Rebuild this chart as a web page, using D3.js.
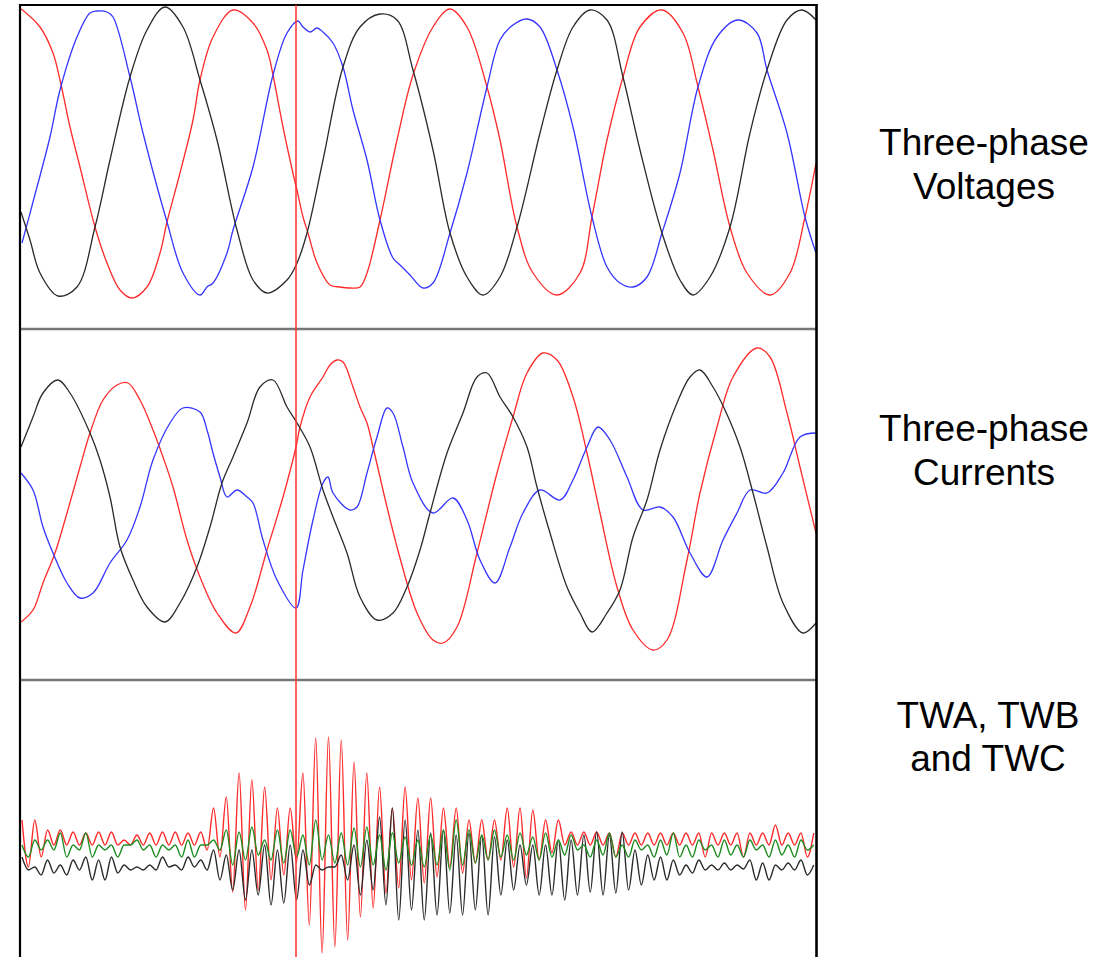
<!DOCTYPE html>
<html>
<head>
<meta charset="utf-8">
<script src="https://cdnjs.cloudflare.com/ajax/libs/d3/7.8.5/d3.min.js"></script>
<style>
body { margin: 0; background: #ffffff; }
</style>
</head>
<body>
<div id="chart"></div>
<script>
//recording window in samples, fault cursor sample
var sampleCount = 796;
var faultSample = 276;

//three-phase voltages [sample, value]
var voltageA = [[0,144],[20,125],[33,99],[40,72],[50,25],[60,-15],[75,-75],[87,-111],[100,-138],[112,-146],[127,-135],[140,-101],[147,-70],[160,-21],[173,32],[180,72],[193,115],[213,142],[233,129],[247,102],[253,77],[263,25],[275,-30],[277,-38],[283,-65],[288,-81],[297,-111],[310,-133],[320,-135],[330,-136],[340,-135],[347,-121],[360,-68],[377,12],[393,77],[413,125],[430,143],[447,125],[467,65],[480,12],[497,-75],[513,-121],[537,-143],[560,-121],[572,-65],[587,12],[603,75],[620,125],[642,142],[663,119],[678,65],[693,2],[710,-75],[727,-121],[750,-143],[770,-121],[785,-65],[796,-11]];
var voltageB = [[2,-91],[13,-50],[30,15],[40,62],[57,115],[70,139],[77,141],[87,140],[93,135],[110,75],[123,19],[147,-70],[163,-121],[180,-143],[187,-135],[193,-131],[207,-101],[213,-78],[233,-15],[253,77],[267,119],[278,131],[283,125],[290,120],[297,124],[303,120],[313,109],[323,85],[333,42],[347,-8],[360,-68],[373,-106],[380,-113],[390,-123],[403,-136],[413,-131],[430,-81],[447,-21],[467,65],[480,112],[493,127],[507,133],[520,125],[537,82],[553,25],[572,-65],[587,-115],[600,-131],[613,-135],[627,-125],[642,-81],[660,-21],[678,65],[697,115],[718,132],[737,119],[747,82],[767,19],[785,-65],[796,-101]];
var voltageC = [[1,-60],[10,-88],[20,-121],[38,-144],[57,-135],[75,-75],[90,-8],[110,75],[127,122],[145,145],[163,125],[180,72],[197,12],[217,-78],[233,-128],[247,-141],[267,-128],[277,-111],[287,-81],[303,-8],[323,85],[340,125],[360,138],[377,132],[393,82],[413,2],[430,-81],[447,-125],[463,-143],[480,-125],[497,-75],[520,19],[537,82],[553,125],[570,142],[587,132],[603,75],[620,2],[642,-81],[660,-128],[673,-143],[690,-125],[710,-75],[730,19],[747,82],[767,132],[782,142],[796,132]];

//three-phase currents [sample, value]
var currentA = [[1,-122],[13,-110],[23,-83],[35,-53],[47,-13],[60,33],[70,67],[83,100],[97,115],[108,117],[120,100],[133,70],[143,43],[153,13],[167,-40],[180,-77],[197,-113],[216,-133],[230,-107],[247,-50],[263,3],[276,53],[280,73],[290,103],[303,123],[310,135],[317,140],[323,138],[333,113],[340,93],[347,77],[353,53],[367,-7],[380,-58],[397,-113],[413,-140],[423,-143],[437,-127],[457,-53],[477,27],[493,83],[507,127],[523,147],[537,140],[553,103],[567,47],[580,-13],[597,-87],[613,-130],[633,-150],[647,-140],[667,-60],[680,7],[697,73],[713,123],[737,152],[750,143],[767,87],[780,33],[796,-33]];
var currentB = [[1,27],[13,10],[23,-27],[33,-53],[47,-83],[60,-98],[73,-93],[90,-63],[107,-40],[120,-7],[133,40],[150,77],[163,92],[180,88],[187,70],[193,47],[200,23],[207,3],[217,10],[227,3],[233,-3],[243,-40],[257,-80],[276,-108],[283,-70],[293,-20],[303,17],[308,23],[313,7],[330,-10],[337,-7],[347,27],[357,63],[367,92],[373,87],[383,53],[393,17],[413,-13],[433,2],[447,-20],[460,-60],[475,-83],[490,-47],[503,-13],[520,10],[540,0],[553,20],[567,53],[578,73],[590,60],[607,23],[623,-10],[640,-7],[653,-17],[670,-53],[687,-77],[703,-40],[717,-13],[730,10],[747,7],[763,27],[780,63],[796,67]];
var currentC = [[1,53],[13,83],[23,107],[38,120],[50,107],[70,67],[80,40],[90,3],[100,-47],[113,-80],[127,-107],[145,-122],[160,-103],[177,-67],[190,-27],[202,17],[213,43],[227,77],[240,113],[253,120],[267,93],[277,77],[290,53],[303,10],[313,-17],[327,-53],[340,-97],[357,-120],[373,-113],[387,-87],[400,-50],[410,-13],[427,47],[443,87],[457,123],[467,127],[480,103],[493,83],[507,53],[517,13],[530,-33],[547,-87],[560,-113],[572,-132],[587,-113],[600,-90],[613,-37],[627,0],[640,50],[657,97],[670,123],[680,130],[693,113],[705,90],[720,53],[733,7],[747,-47],[763,-103],[783,-133],[796,-123]];

//travelling waves, one extreme every half cycle
var twStart = 2;
var twStep = 6.385;
var twA = [25,-22, 25,-12, 15,0, 15,0, 13,0,
    12,0, 13,0, 13,0, 5,0, 10,0,
    12,0, 13,0, 13,0, 12,0, 13,-5,
    37,-12, 48,-47, 72,-65, 65,-45, 58,-35,
    37,-30, 37,-17, 72,-80, 107,-108, 108,-102,
    105,-95, 83,-72, 72,-63, 58,-48, 37,-43,
    58,-35, 47,-38, 47,-32, 37,-22, 37,-28,
    25,-18, 25,-15, 25,-15, 37,-22, 37,-33,
    35,-15, 25,-8, 25,0, 13,0, 13,0,
    13,0, 12,-12, 12,0, 12,0, 12,0,
    12,0, 12,0, 12,0, 12,-12, 12,0,
    12,0, 12,-12, 12,0, 12,0, 20,0,
    12,0, 12,-12, 12];
var twB = [0,-12, 5,-5, 5,-5, 12,-12, 0,-5,
    12,-12, 0,-5, 0,-12, 0,0, 5,-5,
    0,-12, 0,-5, 0,-12, 5,-12, 0,0,
    5,-5, 15,-20, 13,-15, 18,-10, 5,-15,
    15,-18, 15,-12, 10,-20, 25,-15, 10,-18,
    12,-20, 17,-22, 18,-20, 10,-25, 12,-18,
    8,-20, 5,-22, 10,-20, 15,-25, 25,-20,
    15,-18, 10,-15, 15,-12, 10,-15, 12,-10,
    8,-15, 12,-12, 5,-10, 10,-5, 0,-12,
    5,-10, 12,-12, 0,-12, 5,-5, 0,-12,
    5,-10, 12,-12, 0,-12, 5,-5, 0,-12,
    5,-10, 0,-12, 5,-5, 0,-12, 5,-10,
    0,-12, 5,-5, 0];
var twC = [-12,-25, -22,-30, -15,-28, -20,-30, -15,-25,
    -12,-35, -15,-35, -12,-28, -20,-25, -22,-25,
    -20,-25, -12,-22, -20,-25, -12,-22, -15,-25,
    -5,-35, -10,-45, -5,-55, -5,-50, 0,-60,
    -5,-58, 0,-55, -5,-40, -20,-25, -22,-22,
    -10,-35, 0,-50, 5,-45, 28,-60, 37,-75,
    25,-65, 15,-75, 12,-70, 15,-68, 10,-70,
    12,-65, 10,-70, 8,-50, 5,-45, 0,-40,
    0,-50, 0,-50, 5,-55, 5,-50, 10,-47,
    13,-50, 10,-48, 13,-45, -5,-40, -10,-35,
    -12,-35, -15,-30, -20,-28, -15,-25, -20,-25,
    -18,-25, -20,-24, -15,-35, -18,-35, -20,-25,
    -18,-25, -15,-30, -20];

//panel labels and value ranges
var panelLabels = [['Three-phase', 'Voltages'], ['Three-phase', 'Currents'], ['TWA, TWB', 'and TWC']];
var panelRanges = [[-177, 147], [-180, 171], [-112, 165]];

//layout
var width = 1112;
var height = 957;
var plotLeft = 20;
var plotRight = 816;
var panelTops = [5, 329, 680];
var panelBottoms = [329, 680, 957];
var labelX = [984, 984, 988];
var labelBaselines = [[155, 199], [441, 485], [728, 771]];

var red = '#ff2a2a';
var blue = '#3535ff';
var black = '#2a2a2a';
var green = '#1e8c1e';

function twPoints(values){
    return values.map(function(v, i){
        return [twStart + i * twStep, v];
    });
}

var panels = [
    [{data: voltageA, color: red}, {data: voltageB, color: blue}, {data: voltageC, color: black}],
    [{data: currentA, color: red}, {data: currentB, color: blue}, {data: currentC, color: black}],
    [{data: twPoints(twA), color: red, tw: true}, {data: twPoints(twC), color: black, tw: true}, {data: twPoints(twB), color: green, tw: true}]
];

var svg = d3.select('#chart')
    .append('svg')
    .attr('width', width)
    .attr('height', height)
    .style('display', 'block');

svg.append('rect')
    .attr('width', width)
    .attr('height', height)
    .attr('fill', '#ffffff');

var x = d3.scaleLinear()
    .domain([0, sampleCount])
    .range([plotLeft, plotRight]);

panels.forEach(function(series, i){
    var y = d3.scaleLinear()
        .domain(panelRanges[i])
        .range([panelBottoms[i], panelTops[i]]);

    svg.append('clipPath')
        .attr('id', 'clip' + i)
        .append('rect')
        .attr('x', plotLeft)
        .attr('y', panelTops[i])
        .attr('width', plotRight - plotLeft)
        .attr('height', panelBottoms[i] - panelTops[i]);

    var g = svg.append('g')
        .attr('clip-path', 'url(#clip' + i + ')');

    series.forEach(function(s){
        var line = d3.line()
            .x(function(d){ return x(d[0]); })
            .y(function(d){ return y(d[1]); })
            .curve(s.tw ? d3.curveMonotoneX : d3.curveCatmullRom.alpha(0.5));

        g.append('path')
            .datum(s.data)
            .attr('d', line)
            .attr('fill', 'none')
            .attr('stroke', s.color)
            .attr('stroke-width', s.tw ? 1.4 : 1.3)
            .attr('stroke-linejoin', 'round');
    });

    //labels on the right
    panelLabels[i].forEach(function(txt, j){
        svg.append('text')
            .attr('x', labelX[i])
            .attr('y', labelBaselines[i][j])
            .attr('text-anchor', 'middle')
            .style('font-family', '"Liberation Sans", Arial, sans-serif')
            .style('font-size', '37px')
            .style('fill', '#000000')
            .text(txt);
    });
});

//separators between panels
panelTops.slice(1).forEach(function(py){
    svg.append('line')
        .attr('x1', plotLeft)
        .attr('x2', plotRight)
        .attr('y1', py)
        .attr('y2', py)
        .attr('stroke', '#777777')
        .attr('stroke-width', 2.5);
});

//frame
svg.append('line')
    .attr('x1', plotLeft).attr('x2', plotRight + 1.5)
    .attr('y1', panelTops[0]).attr('y2', panelTops[0])
    .attr('stroke', '#000000').attr('stroke-width', 2);
svg.append('line')
    .attr('x1', plotLeft).attr('x2', plotLeft)
    .attr('y1', panelTops[0] - 1).attr('y2', height)
    .attr('stroke', '#000000').attr('stroke-width', 2.2);
svg.append('line')
    .attr('x1', plotRight + 0.5).attr('x2', plotRight + 0.5)
    .attr('y1', panelTops[0] - 1).attr('y2', height)
    .attr('stroke', '#000000').attr('stroke-width', 2.6);

//fault cursor
svg.append('line')
    .attr('x1', x(faultSample)).attr('x2', x(faultSample))
    .attr('y1', panelTops[0]).attr('y2', height)
    .attr('stroke', '#ff3030')
    .attr('stroke-width', 1.5);
</script>
</body>
</html>
